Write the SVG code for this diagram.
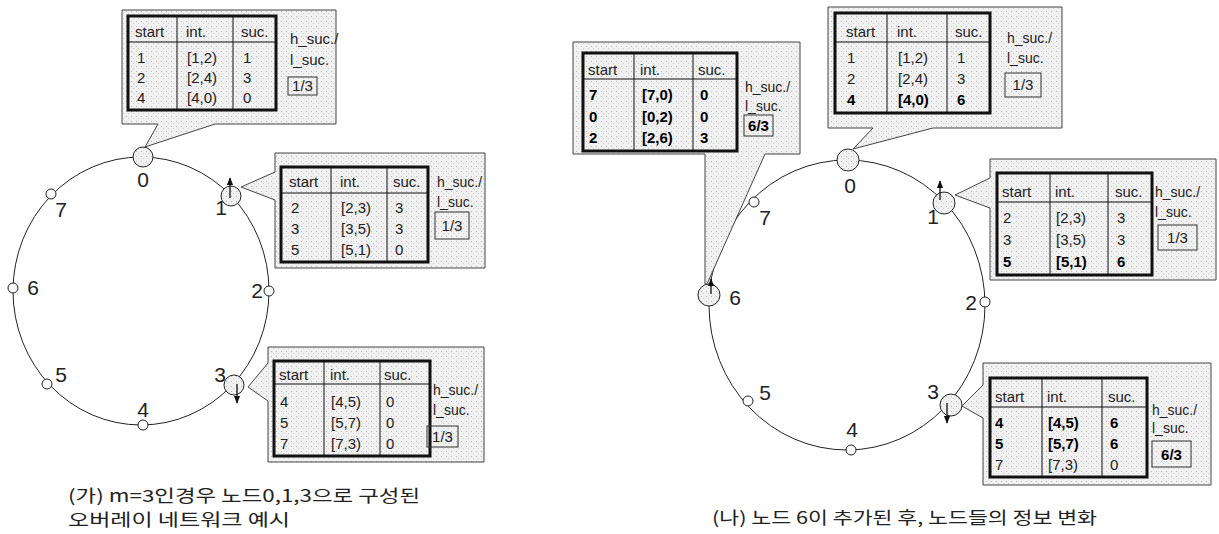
<svg xmlns="http://www.w3.org/2000/svg" width="1219" height="534" viewBox="0 0 1219 534">
<defs>
<pattern id="dots" width="5" height="5" patternUnits="userSpaceOnUse">
<rect width="5" height="5" fill="#f1f1f1"/>
<rect x="1" y="1" width="1" height="1" fill="#b8b8b8"/>
<rect x="3" y="3" width="1" height="1" fill="#cfcfcf"/>
</pattern>
<marker id="ah" viewBox="0 0 10 10" refX="9" refY="5" markerWidth="6" markerHeight="6" orient="auto">
<path d="M0,1 L10,5 L0,9 Z" fill="#111"/>
</marker>
<style>
.ring{fill:none;stroke:#222;stroke-width:1}
.bign{fill:url(#dots);stroke:#222;stroke-width:1}
.smalln{fill:#fff;stroke:#222;stroke-width:1}
.callout{fill:url(#dots);stroke:#444;stroke-width:1}
.tbl{fill:none;stroke:#111;stroke-width:3}
.grid{stroke:#111;stroke-width:1}
.box{fill:none;stroke:#333;stroke-width:1}
.arr{stroke:#111;stroke-width:1.3;marker-end:url(#ah)}
.t{font-family:"Liberation Sans",Arial,sans-serif;font-size:15px;fill:#222}
.h{font-size:14px}
.b{font-weight:bold;fill:#000}
.lbl{font-family:"Liberation Sans",Arial,sans-serif;font-size:21px;fill:#222;text-anchor:middle}
.c{text-anchor:middle}
.cap{font-family:"Noto Sans CJK KR","Noto Sans",sans-serif;font-size:17px;fill:#222}
</style>
</defs>
<rect width="1219" height="534" fill="#fff"/>

<!-- connectors: rings -->
<g id="connectors">
<ellipse class="ring" cx="141" cy="291" rx="128" ry="134"/>
<ellipse class="ring" cx="847" cy="305" rx="138" ry="145"/>
</g>

<!-- ===== LEFT DIAGRAM ===== -->
<g id="left-node-0"><circle class="bign" cx="143" cy="157" r="10"/><text class="lbl" x="143" y="187">0</text></g>
<g id="left-node-1"><circle class="bign" cx="231" cy="196" r="10"/><line class="arr" x1="230" y1="198" x2="230" y2="178"/><text class="lbl" x="221" y="215">1</text></g>
<g id="left-node-2"><circle class="smalln" cx="269" cy="291" r="5"/><text class="lbl" x="257" y="298">2</text></g>
<g id="left-node-3"><circle class="bign" cx="234" cy="385" r="10"/><line class="arr" x1="237" y1="384" x2="237" y2="403"/><text class="lbl" x="220" y="382">3</text></g>
<g id="left-node-4"><circle class="smalln" cx="143" cy="425" r="5"/><text class="lbl" x="143" y="417">4</text></g>
<g id="left-node-5"><circle class="smalln" cx="47" cy="384" r="5"/><text class="lbl" x="61" y="382">5</text></g>
<g id="left-node-6"><circle class="smalln" cx="13" cy="288" r="5"/><text class="lbl" x="33" y="295">6</text></g>
<g id="left-node-7"><circle class="smalln" cx="51" cy="194" r="5"/><text class="lbl" x="61" y="217">7</text></g>

<g id="left-table-0">
<path class="callout" d="M122,10 H336 V124 H215 L145,147 L158,124 H122 Z"/>
<rect x="128" y="16" width="148" height="94" fill="url(#dots)"/>
<line class="grid" x1="177" y1="16" x2="177" y2="110"/><line class="grid" x1="233" y1="16" x2="233" y2="110"/><line class="grid" x1="128" y1="42" x2="276" y2="42" stroke-width="1.5"/>
<rect class="tbl" x="128" y="16" width="148" height="94"/>
<text class="t" x="135" y="37">start</text><text class="t" x="186" y="37">int.</text><text class="t" x="241" y="37">suc.</text>
<text class="t" x="137" y="63">1</text><text class="t" x="187" y="63">[1,2)</text><text class="t" x="243" y="63">1</text>
<text class="t" x="137" y="83">2</text><text class="t" x="187" y="83">[2,4)</text><text class="t" x="243" y="83">3</text>
<text class="t" x="137" y="103">4</text><text class="t" x="187" y="103">[4,0)</text><text class="t" x="243" y="103">0</text>
<text class="t" x="290" y="44" font-size="13.5">h_suc./</text><text class="t" x="290" y="65" font-size="13.5">l_suc.</text>
<rect class="box" x="288" y="77" width="29" height="18"/><text class="t c" x="302.5" y="91" font-size="13.5">1/3</text>
</g>

<g id="left-table-1">
<path class="callout" d="M275,153 H485 V268 H275 V200 L241,187 L275,172 Z"/>
<rect x="281" y="167" width="147" height="95" fill="url(#dots)"/>
<line class="grid" x1="331" y1="167" x2="331" y2="262"/><line class="grid" x1="387" y1="167" x2="387" y2="262"/><line class="grid" x1="281" y1="193" x2="428" y2="193" stroke-width="1.5"/>
<rect class="tbl" x="281" y="167" width="147" height="95"/>
<text class="t" x="289" y="187">start</text><text class="t" x="340" y="187">int.</text><text class="t" x="393" y="187">suc.</text>
<text class="t" x="291" y="213">2</text><text class="t" x="341" y="213">[2,3)</text><text class="t" x="395" y="213">3</text>
<text class="t" x="291" y="234">3</text><text class="t" x="341" y="234">[3,5)</text><text class="t" x="395" y="234">3</text>
<text class="t" x="291" y="255">5</text><text class="t" x="341" y="255">[5,1)</text><text class="t" x="395" y="255">0</text>
<text class="t h" x="437" y="187">h_suc./</text><text class="t h" x="437" y="207">l_suc.</text>
<rect class="box" x="435" y="212" width="34" height="27"/><text class="t c" x="452" y="231">1/3</text>
</g>

<g id="left-table-3">
<path class="callout" d="M268,347 H484 V462 H268 V401 L248,387 L268,363 Z"/>
<rect x="274" y="361" width="156" height="95" fill="url(#dots)"/>
<line class="grid" x1="324" y1="361" x2="324" y2="456"/><line class="grid" x1="380" y1="361" x2="380" y2="456"/><line class="grid" x1="274" y1="384" x2="430" y2="384" stroke-width="1.5"/>
<rect class="tbl" x="274" y="361" width="156" height="95"/>
<text class="t" x="279" y="380">start</text><text class="t" x="330" y="380">int.</text><text class="t" x="384" y="380">suc.</text>
<text class="t" x="280" y="407">4</text><text class="t" x="331" y="407">[4,5)</text><text class="t" x="386" y="407">0</text>
<text class="t" x="280" y="428">5</text><text class="t" x="331" y="428">[5,7)</text><text class="t" x="386" y="428">0</text>
<text class="t" x="280" y="449">7</text><text class="t" x="331" y="449">[7,3)</text><text class="t" x="386" y="449">0</text>
<text class="t h" x="433" y="395">h_suc./</text><text class="t h" x="433" y="415">l_suc.</text>
<rect class="box" x="427" y="426" width="31" height="21"/><text class="t c" x="442.5" y="442">1/3</text>
</g>

<g id="caption-left">
<text class="cap" x="68" y="502" textLength="352" lengthAdjust="spacingAndGlyphs">(가) m=3인경우 노드0,1,3으로 구성된</text>
<text class="cap" x="68" y="526" textLength="222" lengthAdjust="spacingAndGlyphs">오버레이 네트워크 예시</text>
</g>

<!-- ===== RIGHT DIAGRAM ===== -->
<g id="right-node-0"><circle class="bign" cx="848" cy="160" r="11"/><text class="lbl" x="850" y="193">0</text></g>
<g id="right-node-1"><circle class="bign" cx="944" cy="203" r="11"/><line class="arr" x1="940" y1="200" x2="940" y2="181"/><text class="lbl" x="933" y="224">1</text></g>
<g id="right-node-2"><circle class="smalln" cx="985" cy="302" r="5"/><text class="lbl" x="971" y="310">2</text></g>
<g id="right-node-3"><circle class="bign" cx="951" cy="405" r="11"/><line class="arr" x1="947" y1="403" x2="947" y2="423"/><text class="lbl" x="933" y="399">3</text></g>
<g id="right-node-4"><circle class="smalln" cx="851" cy="450" r="5"/><text class="lbl" x="852" y="437">4</text></g>
<g id="right-node-5"><circle class="smalln" cx="748" cy="401" r="5"/><text class="lbl" x="765" y="400">5</text></g>
<g id="right-node-6"><circle class="bign" cx="709" cy="295" r="11"/><line class="arr" x1="711" y1="294" x2="711" y2="279"/><text class="lbl" x="735" y="305">6</text></g>
<g id="right-node-7"><circle class="smalln" cx="754" cy="202" r="5"/><text class="lbl" x="765" y="225">7</text></g>

<g id="right-table-6">
<path class="callout" d="M573,42 H800 V154 H765 L707,284 L705,284 V154 H573 Z"/>
<rect x="583" y="53" width="154" height="98" fill="url(#dots)"/>
<line class="grid" x1="634" y1="53" x2="634" y2="151"/><line class="grid" x1="693" y1="53" x2="693" y2="151"/><line class="grid" x1="583" y1="79" x2="737" y2="79" stroke-width="1.5"/>
<rect class="tbl" x="583" y="53" width="154" height="98"/>
<text class="t" x="588" y="75">start</text><text class="t" x="640" y="75">int.</text><text class="t" x="698" y="75">suc.</text>
<text class="t b" x="589" y="100">7</text><text class="t b" x="642" y="100">[7,0)</text><text class="t b" x="700" y="100">0</text>
<text class="t b" x="589" y="122">0</text><text class="t b" x="642" y="122">[0,2)</text><text class="t b" x="700" y="122">0</text>
<text class="t b" x="589" y="143">2</text><text class="t b" x="642" y="143">[2,6)</text><text class="t b" x="700" y="143">3</text>
<text class="t h" x="745" y="92">h_suc./</text><text class="t h" x="745" y="111">l_suc.</text>
<rect class="box" x="744" y="115" width="29" height="21"/><text class="t b c" x="758.5" y="131">6/3</text>
</g>

<g id="right-table-0">
<path class="callout" d="M828,7 H1062 V128 H933 L853,149 L873,128 H828 Z"/>
<rect x="835" y="13" width="155" height="100" fill="url(#dots)"/>
<line class="grid" x1="887" y1="13" x2="887" y2="113"/><line class="grid" x1="947" y1="13" x2="947" y2="113"/><line class="grid" x1="835" y1="42" x2="990" y2="42" stroke-width="1.5"/>
<rect class="tbl" x="835" y="13" width="155" height="100"/>
<text class="t" x="846" y="37">start</text><text class="t" x="897" y="37">int.</text><text class="t" x="955" y="37">suc.</text>
<text class="t" x="847" y="63">1</text><text class="t" x="898" y="63">[1,2)</text><text class="t" x="957" y="63">1</text>
<text class="t" x="847" y="84">2</text><text class="t" x="898" y="84">[2,4)</text><text class="t" x="957" y="84">3</text>
<text class="t b" x="847" y="105">4</text><text class="t b" x="898" y="105">[4,0)</text><text class="t b" x="957" y="105">6</text>
<text class="t h" x="1007" y="43">h_suc./</text><text class="t h" x="1007" y="63">l_suc.</text>
<rect class="box" x="1005" y="73" width="36" height="24"/><text class="t c" x="1023" y="90">1/3</text>
</g>

<g id="right-table-1">
<path class="callout" d="M990,159 H1216 V280 H990 V208 L955,195 L990,178 Z"/>
<rect x="997" y="173" width="155" height="102" fill="url(#dots)"/>
<line class="grid" x1="1050" y1="173" x2="1050" y2="275"/><line class="grid" x1="1108" y1="173" x2="1108" y2="275"/><line class="grid" x1="997" y1="202" x2="1152" y2="202" stroke-width="1.5"/>
<rect class="tbl" x="997" y="173" width="155" height="102"/>
<text class="t" x="1002" y="197">start</text><text class="t" x="1055" y="197">int.</text><text class="t" x="1115" y="197">suc.</text>
<text class="t" x="1003" y="223">2</text><text class="t" x="1056" y="223">[2,3)</text><text class="t" x="1117" y="223">3</text>
<text class="t" x="1003" y="245">3</text><text class="t" x="1056" y="245">[3,5)</text><text class="t" x="1117" y="245">3</text>
<text class="t b" x="1003" y="267">5</text><text class="t b" x="1056" y="267">[5,1)</text><text class="t b" x="1117" y="267">6</text>
<text class="t h" x="1155" y="197">h_suc./</text><text class="t h" x="1155" y="217">l_suc.</text>
<rect class="box" x="1158" y="225" width="39" height="25"/><text class="t c" x="1177.5" y="243">1/3</text>
</g>

<g id="right-table-3">
<path class="callout" d="M983,363 H1211 V485 H983 V418 L962,406 L983,385 Z"/>
<rect x="990" y="378" width="157" height="99" fill="url(#dots)"/>
<line class="grid" x1="1042" y1="378" x2="1042" y2="477"/><line class="grid" x1="1102" y1="378" x2="1102" y2="477"/><line class="grid" x1="990" y1="407" x2="1147" y2="407" stroke-width="1.5"/>
<rect class="tbl" x="990" y="378" width="157" height="99"/>
<text class="t" x="995" y="402">start</text><text class="t" x="1047" y="402">int.</text><text class="t" x="1108" y="402">suc.</text>
<text class="t b" x="995" y="428">4</text><text class="t b" x="1048" y="428">[4,5)</text><text class="t b" x="1110" y="428">6</text>
<text class="t b" x="995" y="449">5</text><text class="t b" x="1048" y="449">[5,7)</text><text class="t b" x="1110" y="449">6</text>
<text class="t" x="995" y="470">7</text><text class="t" x="1048" y="470">[7,3)</text><text class="t" x="1110" y="470">0</text>
<text class="t h" x="1152" y="415">h_suc./</text><text class="t h" x="1152" y="433">l_suc.</text>
<rect class="box" x="1152" y="441" width="39" height="26"/><text class="t b c" x="1171.5" y="460">6/3</text>
</g>

<g id="caption-right">
<text class="cap" x="712" y="524" textLength="385" lengthAdjust="spacingAndGlyphs">(나) 노드 6이 추가된 후, 노드들의 정보 변화</text>
</g>
</svg>
